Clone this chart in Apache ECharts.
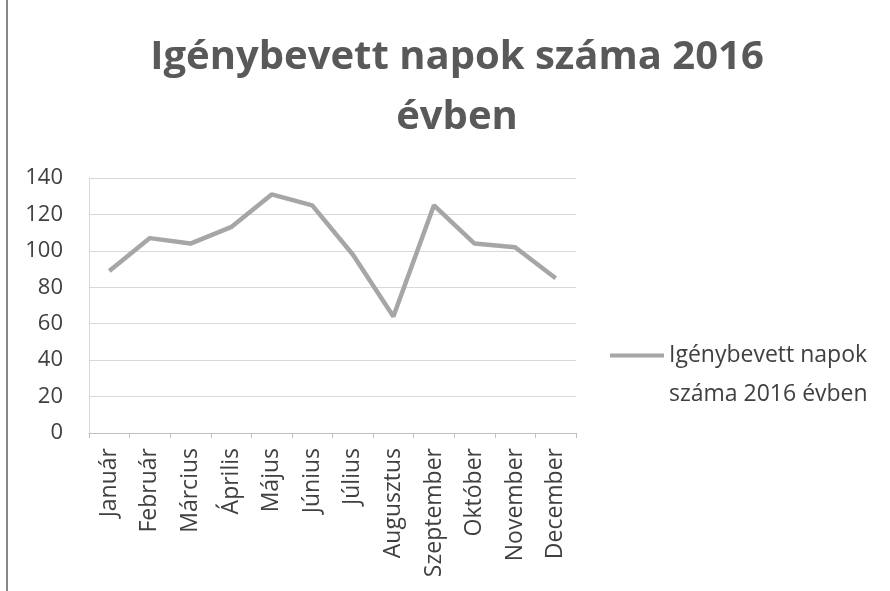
<!DOCTYPE html>
<html>
<head>
<meta charset="utf-8">
<script src="https://cdn.jsdelivr.net/npm/echarts@6/dist/echarts.min.js"></script>
<style>html,body{margin:0;padding:0;background:#fff}#c{width:890px;height:591px}</style>
</head>
<body>
<div id="c"></div>
<script>
const titleText = 'Igénybevett napok száma 2016\névben';
const seriesName = 'Igénybevett napok száma 2016 évben';
const months = ['Január','Február','Március','Április','Május','Június','Július','Augusztus','Szeptember','Október','November','December'];
const values = [89, 107, 104, 113, 131, 125, 98, 64, 125, 104, 102, 85];
const yTicks = {min: 0, max: 140, interval: 20};

const FONT = '"Open Sans", sans-serif';
const chart = echarts.init(document.getElementById('c'), null, {renderer: 'canvas'});
chart.setOption({
  backgroundColor: '#ffffff',
  animation: false,
  title: {
    text: titleText,
    left: 452, textAlign: 'center', top: 23,
    textStyle: {fontFamily: FONT, fontSize: 40, fontWeight: 'bold', color: '#595959', lineHeight: 60}
  },
  grid: {left: 89, right: 314, top: 178, bottom: 158},
  legend: {
    left: 610, top: 297, padding: 0,
    icon: 'rect', itemWidth: 54, itemHeight: 4, itemGap: 4,
    formatter: () => ' \nIgénybevett napok\nszáma 2016 évben',
    textStyle: {fontFamily: FONT, fontSize: 23, color: '#404040', lineHeight: 39}
  },
  xAxis: {
    type: 'category', data: months, boundaryGap: true,
    axisLine: {lineStyle: {color: '#bfbfbf', width: 1}},
    axisTick: {show: true, length: 5, lineStyle: {color: '#bfbfbf'}},
    axisLabel: {rotate: 90, margin: 15, fontFamily: FONT, fontSize: 23, color: '#404040'}
  },
  yAxis: {
    type: 'value', min: yTicks.min, max: yTicks.max, interval: yTicks.interval,
    axisLine: {show: true, lineStyle: {color: '#d9d9d9'}},
    axisTick: {show: false},
    splitLine: {lineStyle: {color: '#d9d9d9', width: 1}},
    axisLabel: {margin: 26, fontFamily: FONT, fontSize: 22, color: '#404040'}
  },
  series: [{
    name: seriesName, type: 'line', data: values,
    symbol: 'none', color: '#a6a6a6',
    lineStyle: {width: 4.5, color: '#a6a6a6'}
  }],
  graphic: [{
    type: 'line', shape: {x1: 7, y1: 0, x2: 7, y2: 591},
    style: {stroke: '#888', lineWidth: 2}
  }]
});
</script>
</body>
</html>
